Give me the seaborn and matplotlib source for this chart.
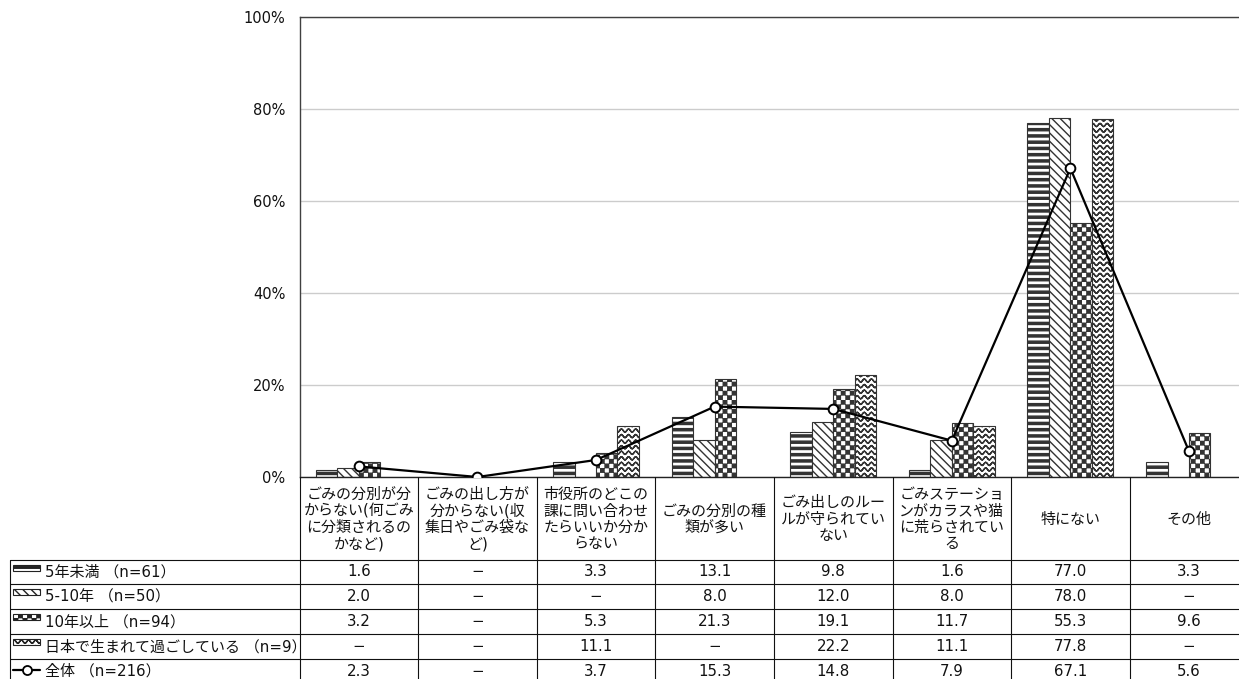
import warnings
warnings.filterwarnings("ignore")
import numpy as np
import pandas as pd
import matplotlib
matplotlib.use("Agg")
import matplotlib.pyplot as plt
import matplotlib.hatch as mhatch
from matplotlib.path import Path
from matplotlib.patches import Rectangle
from matplotlib.lines import Line2D
import seaborn as sns

# ---------------- data ----------------
nan = np.nan
categories = [
    "ごみの分別が分\nからない(何ごみ\nに分類されるの\nかなど)",
    "ごみの出し方が\n分からない(収\n集日やごみ袋な\nど)",
    "市役所のどこの\n課に問い合わせ\nたらいいか分か\nらない",
    "ごみの分別の種\n類が多い",
    "ごみ出しのルー\nルが守られてい\nない",
    "ごみステーショ\nンがカラスや猫\nに荒らされてい\nる",
    "特にない",
    "その他",
]
series_names = [
    "5年未満 （n=61）",
    "5-10年 （n=50）",
    "10年以上 （n=94）",
    "日本で生まれて過ごしている （n=9）",
]
overall_name = "全体 （n=216）"

under_5 = [1.6, nan, 3.3, 13.1, 9.8, 1.6, 77.0, 3.3]
years_5_10 = [2.0, nan, nan, 8.0, 12.0, 8.0, 78.0, nan]
over_10 = [3.2, nan, 5.3, 21.3, 19.1, 11.7, 55.3, 9.6]
born_japan = [nan, nan, 11.1, nan, 22.2, 11.1, 77.8, nan]
overall = [2.3, nan, 3.7, 15.3, 14.8, 7.9, 67.1, 5.6]

y_ticks = [0, 20, 40, 60, 80, 100]

# ---------------- custom hatches ----------------
class CheckerHatch(mhatch.HatchPatternBase):
    N = 22

    def __init__(self, hatch, density):
        self.active = hatch is not None and "c" in hatch
        self.num_vertices = 5 * (self.N * self.N // 2) if self.active else 0

    def set_vertices_and_codes(self, vertices, codes):
        N = self.N
        s = 1.0 / N
        ins = 0.005
        vs, cs = [], []
        for i in range(N):
            for j in range(N):
                if (i + j) % 2 == 0:
                    x0, y0 = i * s + ins, j * s + ins
                    x1, y1 = (i + 1) * s - ins, (j + 1) * s - ins
                    vs += [(x0, y0), (x1, y0), (x1, y1), (x0, y1), (x0, y0)]
                    cs += [Path.MOVETO, Path.LINETO, Path.LINETO, Path.LINETO, Path.CLOSEPOLY]
        vertices[:] = vs
        codes[:] = cs


class StripeHatch(mhatch.HatchPatternBase):
    M = 16

    def __init__(self, hatch, density):
        self.active = hatch is not None and "s" in hatch
        self.num_vertices = 5 * self.M if self.active else 0

    def set_vertices_and_codes(self, vertices, codes):
        M = self.M
        ins = 0.005
        vs, cs = [], []
        for k in range(M):
            y0 = k / M + ins
            y1 = k / M + 0.5 / M - ins
            vs += [(0, y0), (1, y0), (1, y1), (0, y1), (0, y0)]
            cs += [Path.MOVETO, Path.LINETO, Path.LINETO, Path.LINETO, Path.CLOSEPOLY]
        vertices[:] = vs
        codes[:] = cs


class WaveHatch(mhatch.HatchPatternBase):
    R = 18
    P = 14
    K = 8

    def __init__(self, hatch, density):
        self.active = hatch is not None and "w" in hatch
        n = self.P * self.K + 1
        self.num_vertices = self.R * 2 * n if self.active else 0

    def set_vertices_and_codes(self, vertices, codes):
        n = self.P * self.K + 1
        xs = np.linspace(0, 1, n)
        amp = 0.016
        vs, cs = [], []
        for r in range(self.R):
            yc = (r + 0.5) / self.R
            ys = yc + amp * np.cos(2 * np.pi * self.P * xs)
            pts = list(zip(xs, ys))
            pts = pts + pts[::-1]
            vs += pts
            cs += [Path.MOVETO] + [Path.LINETO] * (len(pts) - 1)
        vertices[:] = vs
        codes[:] = cs


mhatch._hatch_types.extend([CheckerHatch, StripeHatch, WaveHatch])


def apply_hatch(patch, h):
    try:
        patch.set_hatch(h)
    except Exception:
        patch._hatch = h
        patch.stale = True


hatches = ["s", "\\\\\\\\", "c", "w"]

# ---------------- style ----------------
sns.set_style("white")
plt.rcParams["font.family"] = ["DejaVu Sans", "Noto Sans CJK JP"]
plt.rcParams["hatch.linewidth"] = 1.0
plt.rcParams["hatch.color"] = "black"

W, H = 1239, 679
fig = plt.figure(figsize=(W / 100, H / 100), dpi=100)

PLOT_L = 299.5
COL_W = 118.6
Y_TOP = 17.0
Y_ZERO = 477.0
ax = fig.add_axes([PLOT_L / W, (H - Y_ZERO) / H, 8 * COL_W / W, (Y_ZERO - Y_TOP) / H])

# long dataframe for seaborn
series_values = [under_5, years_5_10, over_10, born_japan]
rows = []
for name, vals in zip(series_names, series_values):
    for c, v in zip(categories, vals):
        rows.append({"category": c, "series": name, "value": v})
df = pd.DataFrame(rows)

sns.barplot(
    data=df, x="category", y="value", hue="series",
    order=categories, hue_order=series_names,
    palette=["white"] * 4, width=0.725, gap=0,
    edgecolor="#333333", linewidth=0.8, legend=False, ax=ax,
    errorbar=None, saturation=1,
)
for cont, h in zip(ax.containers, hatches):
    for p in cont:
        apply_hatch(p, h)

line_vals = [0.0 if np.isnan(v) else v for v in overall]
sns.pointplot(
    x=categories, y=line_vals, order=categories, color="black",
    markers="o", linestyles="-", errorbar=None, ax=ax,
    markersize=7, linewidth=1.6, markerfacecolor="white",
    markeredgecolor="black", markeredgewidth=1.4,
)
for ln in ax.lines:
    ln.set_markerfacecolor("white")
    ln.set_zorder(5)

ax.set_xlim(-0.5, 7.5)
ax.set_ylim(0, 100)
ax.set_yticks(y_ticks)
ax.set_yticklabels([f"{t}%" for t in y_ticks], fontsize=10.5)
ax.set_xticks([])
ax.set_xlabel("")
ax.set_ylabel("")
ax.yaxis.grid(True, color="#cccccc", linewidth=1.0)
ax.set_axisbelow(True)
ax.tick_params(axis="y", length=0, pad=10, colors="#111111")
for side in ["left", "top", "bottom"]:
    ax.spines[side].set_visible(True)
    ax.spines[side].set_color("#404040")
    ax.spines[side].set_linewidth(1.0)
ax.spines["right"].set_visible(False)
ax.spines["bottom"].set_color("#222222")

# ---------------- table ----------------
tab = fig.add_axes([0, 0, 1, 1])
tab.set_xlim(0, W)
tab.set_ylim(H, 0)
tab.axis("off")
tab.patch.set_visible(False)

LEFT = 10.0
HEAD_BOT = 559.5
ROW_H = 24.9
n_rows = 5
right_edge = PLOT_L + 8 * COL_W
line_kw = dict(color="#111111", linewidth=0.8)

col_x = [PLOT_L + i * COL_W for i in range(9)]
table_bottom = HEAD_BOT + n_rows * ROW_H
for i, x in enumerate(col_x):
    tab.add_line(Line2D([x, x], [Y_ZERO, table_bottom], **line_kw))
tab.add_line(Line2D([LEFT, LEFT], [HEAD_BOT, table_bottom], **line_kw))
for r in range(n_rows + 1):
    y = HEAD_BOT + r * ROW_H
    tab.add_line(Line2D([LEFT, right_edge], [y, y], **line_kw))

fs = 10.8
for i, c in enumerate(categories):
    cx = PLOT_L + (i + 0.5) * COL_W
    tab.text(cx, (Y_ZERO + HEAD_BOT) / 2 + 1, c, ha="center", va="center",
             fontsize=fs, linespacing=1.12, color="#111111")

all_rows = series_values + [overall]
all_names = series_names + [overall_name]
for r, (name, vals) in enumerate(zip(all_names, all_rows)):
    top = HEAD_BOT + r * ROW_H
    cy = top + ROW_H / 2
    for i, v in enumerate(vals):
        cx = PLOT_L + (i + 0.5) * COL_W
        s = "−" if np.isnan(v) else f"{v:.1f}"
        tab.text(cx, cy, s, ha="center", va="center", fontsize=fs, color="#111111")
    tab.text(45, cy, name, ha="left", va="center", fontsize=fs, color="#111111")
    if r < 4:
        sw = Rectangle((13, top + 5), 27, 6, facecolor="white",
                       edgecolor="#222222", linewidth=0.8)
        tab.add_patch(sw)
        apply_hatch(sw, hatches[r])
    else:
        tab.add_line(Line2D([13, 26.5, 40], [top + 10.5] * 3, color="black",
                            linewidth=1.6, marker="o", markevery=[1],
                            markersize=6.5, markerfacecolor="white",
                            markeredgecolor="black", markeredgewidth=1.3))

fig.savefig("out.png", dpi=100)
